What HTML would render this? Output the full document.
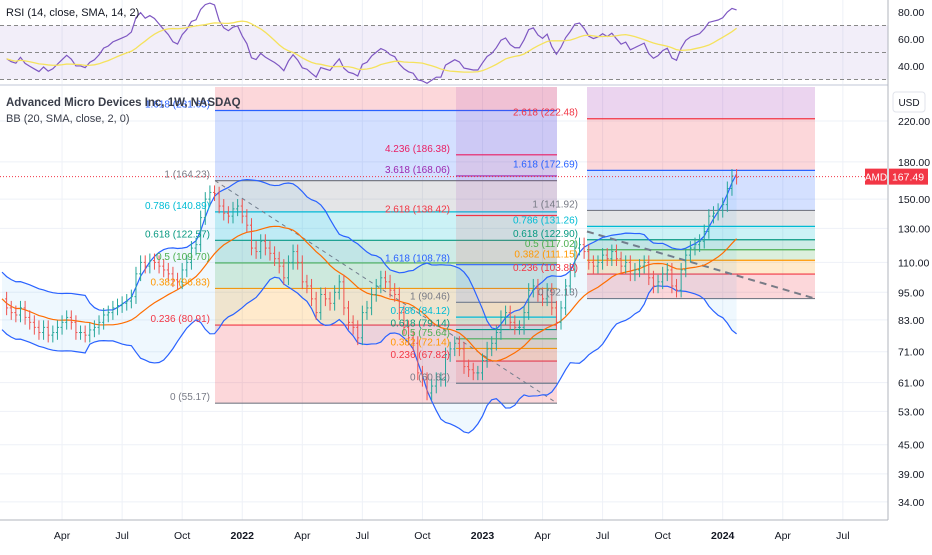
<!DOCTYPE html>
<html><head><meta charset="utf-8">
<style>
html,body{margin:0;padding:0;background:#fff;}
body{width:932px;height:550px;overflow:hidden;font-family:"Liberation Sans",sans-serif;}
svg text{font-family:"Liberation Sans",sans-serif;}
</style></head>
<body>
<svg id="chart" width="932" height="550" viewBox="0 0 932 550" xmlns="http://www.w3.org/2000/svg">
  <g id="grid"></g>
  <g id="rsi"></g>
  <g id="fibs"></g>
  <g id="bb"></g>
  <g id="bars"></g>
  <g id="labels"></g>
  <g id="axes"></g>
  <text x="6" y="16" font-size="11" fill="#131722">RSI (14, close, SMA, 14, 2)</text>
  <text x="6" y="106" font-size="11.5" font-weight="bold" fill="#3a3e4a">Advanced Micro Devices Inc, 1W, NASDAQ</text>
  <text x="6" y="122" font-size="11" fill="#3a3e4a">BB (20, SMA, close, 2, 0)</text>
</svg>
<script>
const closes = [
92,88,86,85, 88,84,82,80, 78,80,77,78,80, 82,84,82,78, 78,77,79,80, 82,85,86,88,89,
90,91,93,104, 110,108,111,110, 108,106,104,101,100, 106,110,118,120, 137,150,155,154, 145,140,138,143,145,
138,132,118,116, 122,118,115,112, 108,102,110,116,110, 100,98,92,86, 94,92,90,95, 100,88,82,80,76,
86,88,94,98, 102,100,96,94, 86,80,76,74,64, 62,58,60,62, 62,70,72,74, 72,66,65,64,64,
68,72,74,78, 84,86,82,80, 80,86,96,98,94, 92,96,88,82, 88,98,106,118, 120,116,110,108,110,
114,112,116,112, 108,110,104,106, 108,110,102,98,100, 104,106,98,96, 106,114,118,120, 122,128,138,140,142,
146,158,168,167
];
const priceTicks = [220,180,150,130,110,95,83,71,61,53,45,39,34];
const rsiTicks = [80,60,40];
const timeLabels = ["Apr","Jul","Oct","2022","Apr","Jul","Oct","2023","Apr","Jul","Oct","2024","Apr","Jul"];
const timeLabelWeeks = [13,26,39,52,65,78,91,104,117,130,143,156,169,182];
const fibA = {p1:164.23, p0:55.17, levels:[0,0.236,0.382,0.5,0.618,0.786,1,1.618,2.618]};
const fibB = {p1:90.46, p0:60.82, levels:[0,0.236,0.382,0.5,0.618,0.786,1,1.618,2.618,3.618,4.236]};
const fibC = {p1:141.92, p0:92.13, levels:[0,0.236,0.382,0.5,0.618,0.786,1,1.618,2.618,3.618]};
const lastPrice = 167.49;

const NS="http://www.w3.org/2000/svg";
function el(parent,tag,attrs,text){const e=document.createElementNS(NS,tag);for(const k in attrs)e.setAttribute(k,attrs[k]);if(text!==undefined)e.textContent=text;parent.appendChild(e);return e;}
const X = i => 2 + i*4.62;
const Y = p => 121 + (Math.log(220)-Math.log(p))*204;
const RY = r => 52.5 - (r-50)*1.35;
const TOP=87, BOT=520, PR=888;

const lvlColor = {0:"#787b86",0.236:"#f23645",0.382:"#ff9800",0.5:"#4caf50",0.618:"#089981",0.786:"#00bcd4",1:"#787b86",1.618:"#2962ff",2.618:"#f23645",3.618:"#9c27b0",4.236:"#e91e63"};

// grid
const grid=document.getElementById('grid');
timeLabelWeeks.forEach(w=>{const x=X(w);const l=el(grid,'line',{x1:x,x2:x,y1:0,y2:BOT,stroke:"#eef1f7","stroke-width":1});

});
priceTicks.forEach(p=>{const y=Y(p);const l=el(grid,'line',{x1:0,x2:PR,y1:y,y2:y,stroke:"#eef1f7","stroke-width":1});

});

// RSI
const rsiG=document.getElementById('rsi');
el(rsiG,'rect',{x:0,y:RY(70),width:PR,height:RY(30)-RY(70),fill:"rgba(126,87,194,0.1)"});
[70,50,30].forEach(v=>el(rsiG,'line',{x1:0,x2:PR,y1:RY(v),y2:RY(v),stroke:"#888","stroke-dasharray":"4,3","stroke-width":1}));
el(rsiG,'line',{x1:0,x2:PR,y1:85,y2:85,stroke:"#e0e3eb","stroke-width":2});
let rsi=[];{let ag=1.5,al=1.5;for(let i=1;i<closes.length;i++){const d=closes[i]-closes[i-1];const g=Math.max(d,0),l=Math.max(-d,0);
ag=(ag*13+g)/14;al=(al*13+l)/14;
rsi[i]= al===0?100:100-100/(1+ag/al);}}
let rp=[];for(let i=1;i<closes.length;i++)rp.push(X(i)+","+RY(rsi[i]));
const rl=el(rsiG,'polyline',{points:rp.join(" "),fill:"none",stroke:"#7e57c2","stroke-width":1.2});


let rs=[];for(let i=1;i<closes.length;i++){let s=0,n=0;for(let j=Math.max(1,i-13);j<=i;j++){s+=rsi[j];n++;}rs.push(X(i)+","+RY(s/n));}
const rsl=el(rsiG,'polyline',{points:rs.join(" "),fill:"none",stroke:"#f5e25c","stroke-width":1.3});



// Fibs
const fibs=document.getElementById('fibs'), labels=document.getElementById('labels');
function drawFib(f,x1,x2,lx,name,op){
  const g=el(fibs,'g',{});
  
  
  const pr=l=>f.p0+l*(f.p1-f.p0);
  for(let k=1;k<f.levels.length;k++){
    const yl=Y(pr(f.levels[k-1])), yu=Math.max(TOP,Y(pr(f.levels[k])));
    if(yl<=TOP)continue;
    el(g,'rect',{x:x1,y:yu,width:x2-x1,height:yl-yu,fill:lvlColor[f.levels[k]],"fill-opacity":op});
  }
  const top=f.levels.length-1;
  const yt=Y(pr(f.levels[top]));
  if(yt>TOP) el(g,'rect',{x:x1,y:TOP,width:x2-x1,height:yt-TOP,fill:"#9c27b0","fill-opacity":op});
  f.levels.forEach(l=>{const p=pr(l),y=Y(p);if(y<TOP)return;
    el(g,'line',{x1:x1,x2:x2,y1:y,y2:y,stroke:lvlColor[l],"stroke-width":1.2});
    const t=el(labels,'text',{x:lx,y:y-3,"font-size":10,"text-anchor":"end",fill:lvlColor[l]},l+" ("+p.toFixed(2)+")");
    
    
  });
}
drawFib(fibA,215,557,210,'fib-retracement-2021-2022',0.2);
drawFib(fibB,456,557,450,'fib-retracement-2022-2023',0.12);
drawFib(fibC,587,815,578,'fib-retracement-2023',0.2);
const tl1=el(fibs,'line',{x1:215,y1:Y(164.23),x2:557,y2:Y(55.17),stroke:"#787b86","stroke-dasharray":"4,4","stroke-width":1});


const tl2=el(fibs,'line',{x1:587,y1:Y(128),x2:815,y2:Y(92.13),stroke:"#787b86","stroke-dasharray":"7,5","stroke-width":2});



// Bollinger
const bb=document.getElementById('bb');
let up=[],lo=[],mid=[];
for(let i=0;i<closes.length;i++){const s=closes.slice(Math.max(0,i-19),i+1);const m=s.reduce((a,b)=>a+b,0)/s.length;
let sd=Math.sqrt(s.reduce((a,b)=>a+(b-m)*(b-m),0)/s.length);
if(s.length<20) sd=Math.max(sd,m*0.07);
up.push(X(i)+","+Y(m+2*sd));lo.push(X(i)+","+Y(Math.max(m-2*sd,1)));mid.push(X(i)+","+Y(m));}
const fill=el(bb,'polygon',{points:up.concat(lo.slice().reverse()).join(" "),fill:"rgba(33,150,243,0.07)"});


const bu=el(bb,'polyline',{points:up.join(" "),fill:"none",stroke:"#2962ff","stroke-width":1.2});


const bl=el(bb,'polyline',{points:lo.join(" "),fill:"none",stroke:"#2962ff","stroke-width":1.2});


const bm=el(bb,'polyline',{points:mid.join(" "),fill:"none",stroke:"#ff6d00","stroke-width":1.2});



// bars
const bars=document.getElementById('bars');
for(let i=1;i<closes.length;i++){const o=closes[i-1],c=closes[i];const col=c>=o?"#26a69a":"#ef5350";
const hi=Math.max(o,c)*1.035,lw=Math.min(o,c)*0.965,x=X(i);
const b=el(bars,'g',{stroke:col,"stroke-width":1});


el(b,'line',{x1:x,x2:x,y1:Y(hi),y2:Y(lw)});
el(b,'line',{x1:x-1.5,x2:x,y1:Y(o),y2:Y(o)});
el(b,'line',{x1:x,x2:x+1.5,y1:Y(c),y2:Y(c)});}

// axes
const ax=document.getElementById('axes');
el(ax,'line',{x1:0,x2:PR,y1:Y(lastPrice),y2:Y(lastPrice),stroke:"#f23645","stroke-dasharray":"1,2","stroke-width":1});
el(ax,'line',{x1:PR,x2:PR,y1:0,y2:BOT,stroke:"#b2b5be","stroke-width":1});
el(ax,'line',{x1:0,x2:PR,y1:BOT,y2:BOT,stroke:"#b2b5be","stroke-width":1});
priceTicks.forEach(p=>{const t=el(ax,'text',{x:898,y:Y(p)+4,"font-size":10.5,fill:"#131722"},p.toFixed(2));

});
rsiTicks.forEach(r=>{const t=el(ax,'text',{x:898,y:RY(r)+4,"font-size":10.5,fill:"#131722"},r.toFixed(2));

});
timeLabels.forEach((s,k)=>{const t=el(ax,'text',{x:X(timeLabelWeeks[k]),y:539,"font-size":10.5,"text-anchor":"middle",fill:"#131722","font-weight":s.length===4?"bold":"normal"},s);

});
const usd=el(ax,'rect',{x:893,y:92,width:32,height:20,rx:3,fill:"#fff",stroke:"#e0e3eb"});


el(ax,'text',{x:909,y:106,"font-size":10,"text-anchor":"middle",fill:"#131722"},"USD");
const ly=Y(lastPrice);
el(ax,'rect',{x:865,y:ly-8,width:22,height:16,fill:"#f23645"});
el(ax,'text',{x:876,y:ly+4,"font-size":10,"text-anchor":"middle",fill:"#fff"},"AMD");
el(ax,'rect',{x:889,y:ly-8,width:39,height:16,fill:"#f23645"});
const lp=el(ax,'text',{x:908,y:ly+4,"font-size":10.5,"text-anchor":"middle",fill:"#fff"},lastPrice.toFixed(2));


</script>
</body></html>
